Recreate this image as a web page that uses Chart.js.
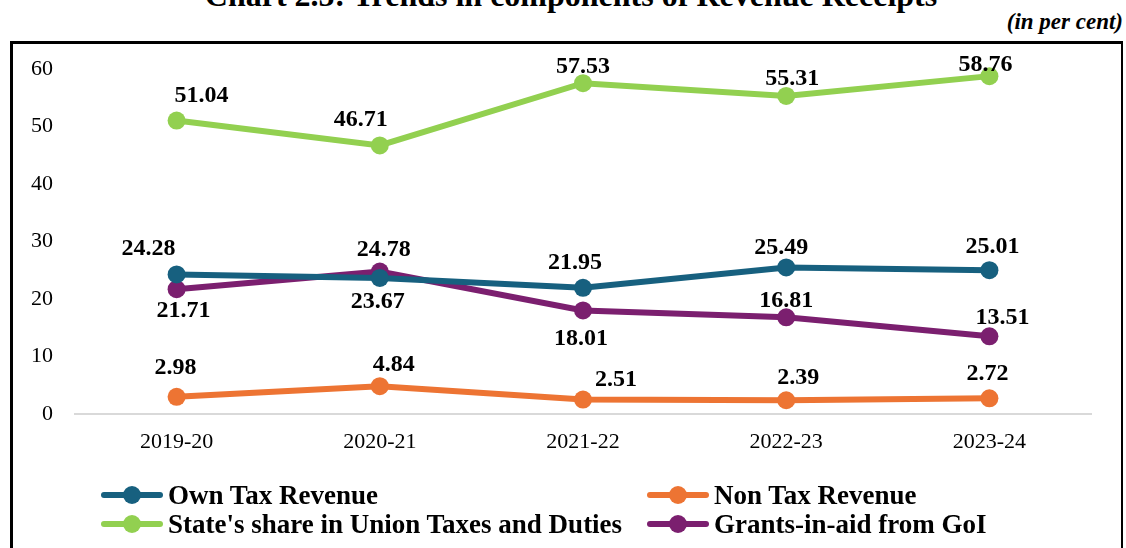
<!DOCTYPE html>
<html>
<head>
<meta charset="utf-8">
<script src="https://cdn.jsdelivr.net/npm/chart.js@4.4.0/dist/chart.umd.min.js"></script>
<style>
  html, body { margin:0; padding:0; background:#fff; width:1126px; height:548px; overflow:hidden; font-family:"Liberation Serif","Times New Roman",serif; }
  #title { position:absolute; left:0; width:1142px; top:-21px; text-align:center; font-weight:bold; font-size:32px; line-height:32px; white-space:nowrap; color:#000; }
  #unit { position:absolute; right:3px; top:10px; font-weight:bold; font-style:italic; font-size:23px; line-height:24px; color:#000; }
  #frame { position:absolute; left:10px; top:41px; width:1108px; height:560px; border-top:3px solid #000; border-left:3px solid #000; border-right:2px solid #000; }
  #wrap { position:absolute; left:0; top:0; width:1126px; height:548px; }
  .leg { position:absolute; display:flex; align-items:center; font-weight:bold; font-size:27px; color:#000; white-space:nowrap; height:30px; }
  .mk { position:relative; width:62px; height:30px; margin-right:5px; }
  .mk .ln { position:absolute; left:0; right:0; top:12px; height:6px; border-radius:3px; }
  .mk .dt { position:absolute; left:22px; top:6px; width:18px; height:18px; border-radius:50%; }
</style>
</head>
<body>
<div id="title">Chart 2.5: Trends in components of Revenue Receipts</div>
<div id="unit">(in per cent)</div>
<div id="frame"></div>
<div id="wrap"><canvas id="c" width="1126" height="548"></canvas></div>
<div id="legend"></div>
<script>
// ---- data ----
const categories = ["2019-20", "2020-21", "2021-22", "2022-23", "2023-24"];
const ownTaxRevenue = [24.28, 23.67, 21.95, 25.49, 25.01];
const nonTaxRevenue = [2.98, 4.84, 2.51, 2.39, 2.72];
const unionTaxShare = [51.04, 46.71, 57.53, 55.31, 58.76];
const grantsInAid = [21.71, 24.78, 18.01, 16.81, 13.51];
const seriesNames = ["Own Tax Revenue", "Non Tax Revenue", "State's share in Union Taxes and Duties", "Grants-in-aid from GoI"];
const yTicks = { min: 0, max: 60, step: 10 };

// ---- styles ----
const colors = ["#17607F", "#ED7433", "#92D050", "#7B1F6F"];
// label nudges (dx, dy from point centre), per series
const labelNudge = [
  [[-28,-26],[-2,24],[-8,-25],[-5,-20],[3,-23]],
  [[-1,-29],[14,-21],[33,-20],[12,-22],[-2,-25]],
  [[25,-25],[-19,-26],[0,-16],[6,-17],[-4,-11]],
  [[7,22],[4,-22],[-2,28],[0,-17],[13,-19]]
];

const seriesData = [ownTaxRevenue, nonTaxRevenue, unionTaxShare, grantsInAid];

const datasets = seriesData.map((d, i) => ({
  label: seriesNames[i],
  data: d,
  borderColor: colors[i],
  backgroundColor: colors[i],
  borderWidth: 6,
  pointRadius: 9,
  pointHoverRadius: 9,
  pointBorderWidth: 0,
  pointBackgroundColor: colors[i],
  tension: 0,
  fill: false,
  clip: false
}));
// draw order: matches reference layering (grants over own tax)
const ordered = [datasets[1], datasets[2], datasets[0], datasets[3]];

const labelPlugin = {
  id: 'valueLabels',
  afterDatasetsDraw(chart) {
    const ctx = chart.ctx;
    ctx.save();
    ctx.font = 'bold 24px "Liberation Serif", "Times New Roman", serif';
    ctx.fillStyle = '#000';
    ctx.textAlign = 'center';
    ctx.textBaseline = 'middle';
    chart.data.datasets.forEach((ds, di) => {
      const si = seriesNames.indexOf(ds.label);
      const meta = chart.getDatasetMeta(di);
      meta.data.forEach((pt, j) => {
        const [dx, dy] = labelNudge[si][j];
        ctx.fillText(ds.data[j].toFixed(2), pt.x + dx, pt.y + dy);
      });
    });
    ctx.restore();
  }
};

new Chart(document.getElementById('c'), {
  type: 'line',
  data: { labels: categories, datasets: ordered },
  options: {
    responsive: false,
    animation: false,
    events: [],
    layout: { padding: { left: 0, right: 35, top: 69, bottom: 0 } },
    plugins: { legend: { display: false }, tooltip: { enabled: false } },
    scales: {
      x: {
        offset: true,
        grid: { display: false, drawTicks: false },
        border: { display: true, color: '#d9d9d9', width: 2 },
        ticks: { color: '#000', padding: 15, font: { family: '"Liberation Serif", "Times New Roman", serif', size: 22 } },
        afterFit(s) { s.height = 134; }
      },
      y: {
        min: yTicks.min, max: yTicks.max,
        grid: { display: false, drawTicks: false },
        border: { display: false },
        ticks: { stepSize: yTicks.step, color: '#000', padding: 22, font: { family: '"Liberation Serif", "Times New Roman", serif', size: 22 } },
        afterFit(s) { s.width = 75; }
      }
    }
  },
  plugins: [labelPlugin]
});

// ---- HTML legend ----
const legendPos = [[101, 480], [647, 480], [101, 509], [647, 509]];
const lg = document.getElementById('legend');
seriesNames.forEach((name, i) => {
  const el = document.createElement('div');
  el.className = 'leg';
  el.style.left = legendPos[i][0] + 'px';
  el.style.top = legendPos[i][1] + 'px';
  el.innerHTML = '<div class="mk"><div class="ln" style="background:' + colors[i] + '"></div><div class="dt" style="background:' + colors[i] + '"></div></div>';
  const t = document.createElement('span');
  t.textContent = name;
  el.appendChild(t);
  lg.appendChild(el);
});
</script>
</body>
</html>
